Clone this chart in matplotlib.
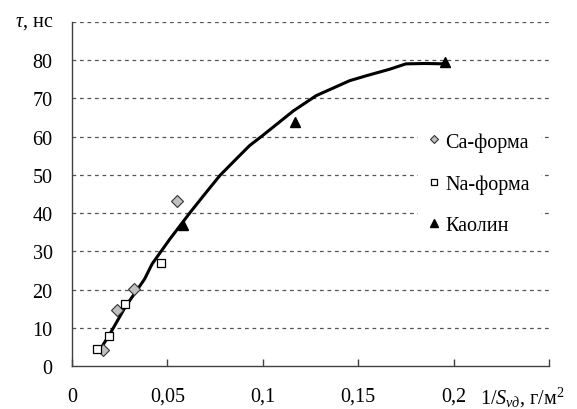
import matplotlib.pyplot as plt
import numpy as np

plt.rcParams['font.family'] = ['Liberation Serif', 'DejaVu Serif']
plt.rcParams['mathtext.fontset'] = 'custom'
plt.rcParams['mathtext.rm'] = 'Liberation Serif'
plt.rcParams['mathtext.it'] = 'Liberation Serif:italic'

# данные
ca_x = [0.016, 0.0234, 0.0325, 0.0551]
ca_y = [4.2, 14.6, 20.1, 43.2]
na_x = [0.0133, 0.0195, 0.0277, 0.0464]
na_y = [4.4, 7.9, 16.2, 26.9]
kao_x = [0.0583, 0.117, 0.1956]
kao_y = [36.9, 63.9, 79.6]
# аппроксимирующая кривая
fit_x = [0.014, 0.020, 0.028, 0.038, 0.042, 0.0513, 0.062, 0.070, 0.0775, 0.085,
         0.093, 0.100, 0.110, 0.116, 0.128, 0.137, 0.1455, 0.155, 0.1665, 0.175,
         0.185, 0.196]
fit_y = [3.7, 8.5, 15.5, 22.7, 26.7, 33.2, 40.2, 45.2, 49.8, 53.6,
         57.6, 60.3, 64.3, 66.7, 70.7, 72.7, 74.6, 76.0, 77.6, 79.0,
         79.1, 79.0]

x_ticks = [0, 0.05, 0.1, 0.15, 0.2, 0.25]
x_labels = ['0', '0,05', '0,1', '0,15', '0,2', '']
y_ticks = list(range(0, 91, 10))
y_labels = [str(v) for v in y_ticks[:-1]] + ['']

fig = plt.figure(figsize=(5.77, 4.10), dpi=100)
ax = fig.add_axes([72/577, 1 - 367/410, 477/577, 344.2/410])

ax.set_xlim(0, 0.25)
ax.set_ylim(0, 90)
# пунктирная сетка
for yy in y_ticks[1:]:
    ax.axhline(yy, color='#555555', linestyle=(0, (3, 3)), linewidth=0.9, zorder=1)

ax.plot(fit_x, fit_y, color='black', linewidth=2.2, zorder=3)
ax.plot(ca_x, ca_y, linestyle='none', marker='D', markersize=5.8,
        markerfacecolor='#c0c0c0', markeredgecolor='#333333', markeredgewidth=0.8,
        label='Ca-форма', zorder=4)
ax.plot(na_x, na_y, linestyle='none', marker='s', markersize=5.2,
        markerfacecolor='white', markeredgecolor='black', markeredgewidth=0.9,
        label='Na-форма', zorder=4)
ax.plot(kao_x, kao_y, linestyle='none', marker='^', markersize=7,
        markerfacecolor='black', markeredgecolor='black',
        label='Каолин', zorder=4)

for s in ['top', 'right']:
    ax.spines[s].set_visible(False)
for s in ['left', 'bottom']:
    ax.spines[s].set_color('#404040')
    ax.spines[s].set_linewidth(1.0)

ax.set_xticks(x_ticks)
ax.set_xticklabels(x_labels)
ax.set_yticks(y_ticks)
ax.set_yticklabels(y_labels)
ax.tick_params(axis='x', direction='in', length=5, width=1, color='#404040',
               pad=15, labelsize=14.5)
ax.tick_params(axis='y', length=0, pad=14, labelsize=14.5)

# подписи осей
ax.text(-19/477, 90, r'$\tau$, нс', transform=ax.get_yaxis_transform(),
        ha='right', va='center', fontsize=14.5)
fig.text(480/577, 1 - 398/410, r'$\mathit{1/S_{vд}}$, г/м$^2$', ha='left',
         va='center', fontsize=14.5)

leg = ax.legend(loc='upper left', bbox_to_anchor=(0.725, 0.709), frameon=True,
                fontsize=14.5, labelspacing=1.12, handlelength=0.6,
                handletextpad=0.25, borderpad=0.5, borderaxespad=0,
                fancybox=False, markerscale=0.75)
leg.get_frame().set_edgecolor('white')
leg.get_frame().set_facecolor('white')
leg.get_frame().set_alpha(1)

fig.savefig('out.png', dpi=100)
